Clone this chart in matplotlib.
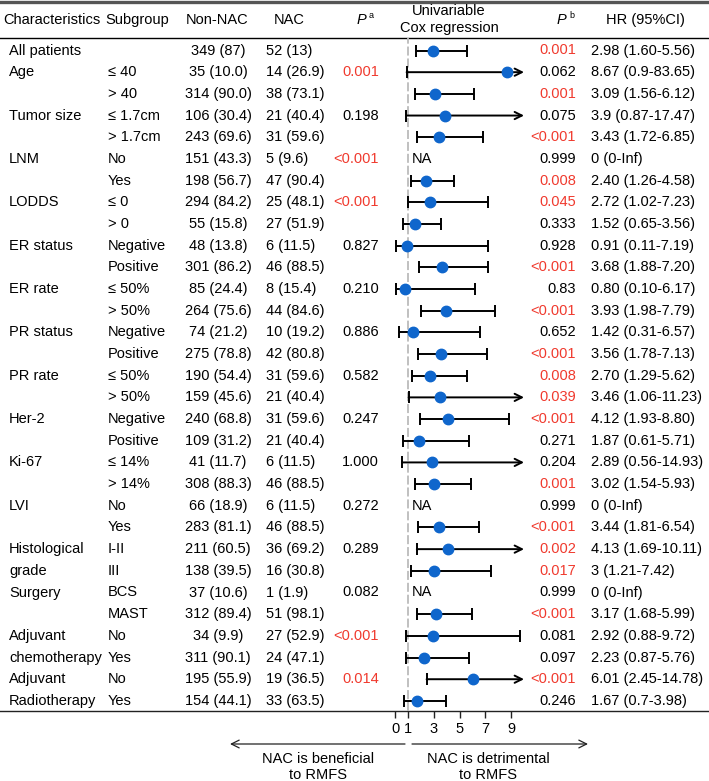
import numpy as np
import matplotlib
matplotlib.use("Agg")
import matplotlib.pyplot as plt

plt.rcParams['font.family'] = ['Liberation Sans', 'DejaVu Sans']

# table data, one entry per row
chars = ["All patients", "Age", "", "Tumor size", "", "LNM", "", "LODDS", "",
         "ER status", "", "ER rate", "", "PR status", "", "PR rate", "",
         "Her-2", "", "Ki-67", "", "LVI", "", "Histological", "grade",
         "Surgery", "", "Adjuvant", "chemotherapy", "Adjuvant", "Radiotherapy"]
subgroups = ["", "≤ 40", "> 40", "≤ 1.7cm", "> 1.7cm", "No", "Yes", "≤ 0", "> 0",
             "Negative", "Positive", "≤ 50%", "> 50%", "Negative", "Positive",
             "≤ 50%", "> 50%", "Negative", "Positive", "≤ 14%", "> 14%",
             "No", "Yes", "I-II", "III", "BCS", "MAST", "No", "Yes", "No", "Yes"]
non_nac = ["349 (87)", "35 (10.0)", "314 (90.0)", "106 (30.4)", "243 (69.6)",
           "151 (43.3)", "198 (56.7)", "294 (84.2)", "55 (15.8)", "48 (13.8)",
           "301 (86.2)", "85 (24.4)", "264 (75.6)", "74 (21.2)", "275 (78.8)",
           "190 (54.4)", "159 (45.6)", "240 (68.8)", "109 (31.2)", "41 (11.7)",
           "308 (88.3)", "66 (18.9)", "283 (81.1)", "211 (60.5)", "138 (39.5)",
           "37 (10.6)", "312 (89.4)", "34 (9.9)", "311 (90.1)", "195 (55.9)",
           "154 (44.1)"]
nac = ["52 (13)", "14 (26.9)", "38 (73.1)", "21 (40.4)", "31 (59.6)", "5 (9.6)",
       "47 (90.4)", "25 (48.1)", "27 (51.9)", "6 (11.5)", "46 (88.5)", "8 (15.4)",
       "44 (84.6)", "10 (19.2)", "42 (80.8)", "31 (59.6)", "21 (40.4)",
       "31 (59.6)", "21 (40.4)", "6 (11.5)", "46 (88.5)", "6 (11.5)", "46 (88.5)",
       "36 (69.2)", "16 (30.8)", "1 (1.9)", "51 (98.1)", "27 (52.9)", "24 (47.1)",
       "19 (36.5)", "33 (63.5)"]
p_a = ["", "0.001", "", "0.198", "", "<0.001", "", "<0.001", "", "0.827", "",
       "0.210", "", "0.886", "", "0.582", "", "0.247", "", "1.000", "", "0.272", "",
       "0.289", "", "0.082", "", "<0.001", "", "0.014", ""]
p_b = ["0.001", "0.062", "0.001", "0.075", "<0.001", "0.999", "0.008", "0.045",
       "0.333", "0.928", "<0.001", "0.83", "<0.001", "0.652", "<0.001", "0.008",
       "0.039", "<0.001", "0.271", "0.204", "0.001", "0.999", "<0.001", "0.002",
       "0.017", "0.999", "<0.001", "0.081", "0.097", "<0.001", "0.246"]
hr_text = ["2.98 (1.60-5.56)", "8.67 (0.9-83.65)", "3.09 (1.56-6.12)",
           "3.9 (0.87-17.47)", "3.43 (1.72-6.85)", "0 (0-Inf)", "2.40 (1.26-4.58)",
           "2.72 (1.02-7.23)", "1.52 (0.65-3.56)", "0.91 (0.11-7.19)",
           "3.68 (1.88-7.20)", "0.80 (0.10-6.17)", "3.93 (1.98-7.79)",
           "1.42 (0.31-6.57)", "3.56 (1.78-7.13)", "2.70 (1.29-5.62)",
           "3.46 (1.06-11.23)", "4.12 (1.93-8.80)", "1.87 (0.61-5.71)",
           "2.89 (0.56-14.93)", "3.02 (1.54-5.93)", "0 (0-Inf)", "3.44 (1.81-6.54)",
           "4.13 (1.69-10.11)", "3 (1.21-7.42)", "0 (0-Inf)", "3.17 (1.68-5.99)",
           "2.92 (0.88-9.72)", "2.23 (0.87-5.76)", "6.01 (2.45-14.78)",
           "1.67 (0.7-3.98)"]
hr = [2.98, 8.67, 3.09, 3.9, 3.43, 0, 2.40, 2.72, 1.52, 0.91, 3.68, 0.80, 3.93,
      1.42, 3.56, 2.70, 3.46, 4.12, 1.87, 2.89, 3.02, 0, 3.44, 4.13, 3, 0, 3.17,
      2.92, 2.23, 6.01, 1.67]
lo = [1.60, 0.9, 1.56, 0.87, 1.72, 0, 1.26, 1.02, 0.65, 0.11, 1.88, 0.10, 1.98,
      0.31, 1.78, 1.29, 1.06, 1.93, 0.61, 0.56, 1.54, 0, 1.81, 1.69, 1.21, 0, 1.68,
      0.88, 0.87, 2.45, 0.7]
hi = [5.56, 83.65, 6.12, 17.47, 6.85, np.inf, 4.58, 7.23, 3.56, 7.19, 7.20, 6.17,
      7.79, 6.57, 7.13, 5.62, 11.23, 8.80, 5.71, 14.93, 5.93, np.inf, 6.54, 10.11,
      7.42, np.inf, 5.99, 9.72, 5.76, 14.78, 3.98]
xticks = [0, 1, 3, 5, 7, 9]

RED = '#F03A2E'
BLUE = '#0F66CC'
FS = 10.5
W, H = 709, 781
y0, dy = 50.5, 21.68
rows = y0 + dy * np.arange(len(chars))
top_line, head_line, bot_line = 1.5, 38, 711


def is_sig(p):
    return p.startswith('<') or (p != '' and float(p) < 0.05)


fig = plt.figure(figsize=(W / 100, H / 100), dpi=100)
ax = fig.add_axes([0, 0, 1, 1])
ax.set_xlim(0, W)
ax.set_ylim(H, 0)
ax.axis('off')

# header
hy = 20
ax.text(3, hy, "Characteristics", fontsize=FS, va='center')
ax.text(105, hy, "Subgroup", fontsize=FS, va='center')
ax.text(217, hy, "Non-NAC", fontsize=FS, va='center', ha='center')
ax.text(289, hy, "NAC", fontsize=FS, va='center', ha='center')
ax.text(357, hy, "P", fontsize=FS, va='center', style='italic')
ax.text(369, hy - 4, "a", fontsize=6.5, va='center')
ax.text(449, 11, "Univariable", fontsize=FS, va='center', ha='center')
ax.text(449, 28, "Cox regression", fontsize=FS, va='center', ha='center')
ax.text(557, hy, "P", fontsize=FS, va='center', style='italic')
ax.text(569, hy - 4, "b", fontsize=6.5, va='center')
ax.text(645, hy, "HR (95%CI)", fontsize=FS, va='center', ha='center')

ax.plot([0, W], [top_line, top_line], color='#555555', lw=2.4)
ax.plot([0, W], [head_line, head_line], color='black', lw=1.0)
ax.plot([0, W], [bot_line, bot_line], color='#222222', lw=1.0)

for i, y in enumerate(rows):
    ax.text(9, y, chars[i], fontsize=FS, va='center')
    ax.text(108, y, subgroups[i], fontsize=FS, va='center')
    ax.text(218, y, non_nac[i], fontsize=FS, va='center', ha='center')
    ax.text(266, y, nac[i], fontsize=FS, va='center')
    if p_a[i]:
        ax.text(379, y, p_a[i], fontsize=FS, va='center', ha='right',
                color=RED if is_sig(p_a[i]) else 'black')
    ax.text(576, y, p_b[i], fontsize=FS, va='center', ha='right',
            color=RED if is_sig(p_b[i]) else 'black')
    ax.text(591, y, hr_text[i], fontsize=FS, va='center')

# forest panel, x in HR units (0 at 395 px, 12.9 px per unit)
x_zero, ppu = 395, 12.9
xmin, xmax = -1, 11
fx = fig.add_axes([(x_zero + xmin * ppu) / W, (H - bot_line) / H,
                   (xmax - xmin) * ppu / W, (bot_line - head_line) / H])
fx.patch.set_alpha(0)
fx.set_xlim(xmin, xmax)
fx.set_ylim(bot_line, head_line)
for s in fx.spines.values():
    s.set_visible(False)
fx.set_yticks([])
fx.set_xticks(xticks)
fx.tick_params(axis='x', direction='out', length=5, width=1.0, labelsize=FS,
               pad=3, color='#222222')

fx.axvline(1, color='#BBBBBB', lw=1.3, dashes=(5, 1.6), zorder=1)

cap = 10
for i, y in enumerate(rows):
    if hr[i] == 0:
        fx.text(1.3, y, "NA", fontsize=FS, va='center')
        continue
    if hi[i] > cap:
        fx.plot([lo[i]], [y], marker='|', ms=8, mew=1.4, color='black', zorder=2)
        fx.annotate('', xy=(cap, y), xytext=(lo[i], y),
                    arrowprops=dict(arrowstyle='->', lw=1.4, color='black',
                                    mutation_scale=13, shrinkA=0, shrinkB=0))
    else:
        fx.errorbar([hr[i]], [y], xerr=[[hr[i] - lo[i]], [hi[i] - hr[i]]],
                    fmt='none', ecolor='black', elinewidth=1.4, capsize=4,
                    capthick=1.4, zorder=2)
    fx.plot([hr[i]], [y], 'o', color=BLUE, ms=7.5, mec=BLUE, zorder=3)

# direction arrows below the axis
ay = 744
ax.annotate('', xy=(230, ay), xytext=(405, ay),
            arrowprops=dict(arrowstyle='->', lw=0.9, color='#222222',
                            mutation_scale=14, shrinkA=0, shrinkB=0))
ax.annotate('', xy=(588, ay), xytext=(412, ay),
            arrowprops=dict(arrowstyle='->', lw=0.9, color='#222222',
                            mutation_scale=14, shrinkA=0, shrinkB=0))
ax.text(318, 767, "NAC is beneficial\nto RMFS", fontsize=FS, ha='center',
        va='center', linespacing=1.2)
ax.text(488, 767, "NAC is detrimental\nto RMFS", fontsize=FS, ha='center',
        va='center', linespacing=1.2)

fig.savefig("out.png", dpi=100)
